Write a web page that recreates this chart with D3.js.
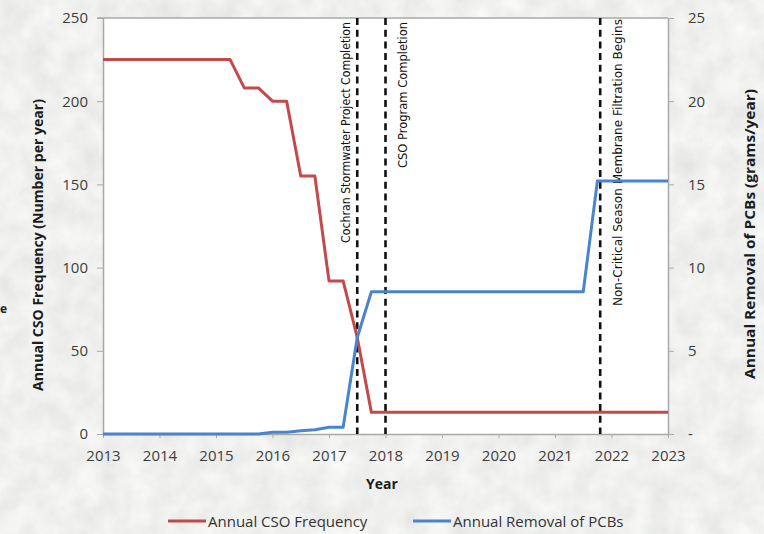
<!DOCTYPE html>
<html>
<head>
<meta charset="utf-8">
<script src="https://cdn.jsdelivr.net/npm/d3@7"></script>
<style>
  body { margin: 0; background: #eaebe8; }
  svg { display: block; }
  .tick text { font-family: "Open Sans", sans-serif; font-size: 15px; fill: #3d3d3d; }
  .axis-title { font-family: "Open Sans", sans-serif; font-size: 14px; font-weight: bold; fill: #1c1c1c; }
  .note { font-family: "Liberation Sans Narrow", "DejaVu Sans Condensed", sans-serif; font-size: 12px; fill: #111; }
  .legend text { font-family: "Open Sans", sans-serif; font-size: 15px; fill: #333; }
</style>
</head>
<body>
<div id="chart"></div>
<script>
// CSO frequency (left axis, number per year)
const csoYears  = [2013, 2015.25, 2015.5, 2015.75, 2016, 2016.25, 2016.5, 2016.75, 2017, 2017.25, 2017.5, 2017.75, 2023];
const csoValues = [225, 225, 208, 208, 200, 200, 155, 155, 92, 92, 58, 13, 13];

// PCB removal (right axis, grams per year)
const pcbYears  = [2013, 2015.75, 2016, 2016.25, 2016.5, 2016.75, 2017, 2017.25, 2017.5, 2017.75, 2021.5, 2021.75, 2023];
const pcbValues = [0, 0, 0.1, 0.1, 0.2, 0.25, 0.4, 0.4, 5.8, 8.55, 8.55, 15.2, 15.2];

// milestone lines
const milestoneYears  = [2017.5, 2018, 2021.8];
const milestoneLabels = ["Cochran Stormwater Project Completion", "CSO Program Completion", "Non-Critical Season Membrane Filtration Begins"];

const xTicks = [2013, 2014, 2015, 2016, 2017, 2018, 2019, 2020, 2021, 2022, 2023];
const leftTicks = [0, 50, 100, 150, 200, 250];
const rightTicks = [0, 5, 10, 15, 20, 25];

const seriesNames = ["Annual CSO Frequency", "Annual Removal of PCBs"];
const seriesColors = ["#c4494b", "#4a84cc"];

const width = 764, height = 534;
const plot = { left: 103, right: 668, top: 18, bottom: 434 };

const svg = d3.select("#chart").append("svg")
  .attr("width", width)
  .attr("height", height);

// faded photo-like backdrop
const defs = svg.append("defs");
const f = defs.append("filter").attr("id", "tex").attr("x", 0).attr("y", 0).attr("width", "100%").attr("height", "100%");
f.append("feTurbulence").attr("type", "fractalNoise").attr("baseFrequency", 0.04).attr("numOctaves", 4).attr("seed", 4);
f.append("feColorMatrix").attr("type", "matrix")
  .attr("values", "0 0 0 0.22 0.76  0 0 0 0.22 0.77  0 0 0 0.22 0.75  0 0 0 0 1");
svg.append("rect").attr("width", width).attr("height", height).attr("filter", "url(#tex)");

const x = d3.scaleLinear().domain([2013, 2023]).range([plot.left, plot.right]);
const yL = d3.scaleLinear().domain([0, 250]).range([plot.bottom, plot.top]);
const yR = d3.scaleLinear().domain([0, 25]).range([plot.bottom, plot.top]);

svg.append("rect")
  .attr("x", plot.left).attr("y", plot.top)
  .attr("width", plot.right - plot.left).attr("height", plot.bottom - plot.top)
  .attr("fill", "#fff");

function styleAxis(g) {
  g.select(".domain").attr("stroke", "#a9a9a9").attr("stroke-width", 1.5);
  g.selectAll(".tick line").attr("stroke", "#a9a9a9");
}

// top border of plot area
svg.append("line")
  .attr("x1", plot.left - 6).attr("x2", plot.right)
  .attr("y1", plot.top).attr("y2", plot.top)
  .attr("stroke", "#a9a9a9").attr("stroke-width", 1.5);

svg.append("g")
  .attr("transform", `translate(0,${plot.bottom})`)
  .call(d3.axisBottom(x).tickValues(xTicks).tickFormat(d3.format("d")).tickSize(4).tickSizeOuter(0).tickPadding(12))
  .call(styleAxis);

svg.append("g")
  .attr("transform", `translate(${plot.left},0)`)
  .call(d3.axisLeft(yL).tickValues(leftTicks).tickSize(6).tickSizeOuter(0).tickPadding(9))
  .call(styleAxis);

svg.append("g")
  .attr("transform", `translate(${plot.right},0)`)
  .call(d3.axisRight(yR).tickValues(rightTicks).tickFormat(d => d === 0 ? "-" : d).tickSize(6).tickSizeOuter(0).tickPadding(14))
  .call(styleAxis);

// milestone dashed lines
svg.append("g").selectAll("line")
  .data(milestoneYears)
  .join("line")
  .attr("x1", d => x(d)).attr("x2", d => x(d))
  .attr("y1", plot.top).attr("y2", plot.bottom)
  .attr("stroke", "#111").attr("stroke-width", 2.6)
  .attr("stroke-dasharray", "7,4.7");

const noteOffset = [-7, 21, 22];
const noteTop = [22, 22, 19];
const noteLen = [221, 146, 287];
svg.append("g").selectAll("text")
  .data(milestoneYears)
  .join("text")
  .attr("class", "note")
  .attr("transform", (d, i) => `translate(${x(d) + noteOffset[i]},${noteTop[i]}) rotate(-90)`)
  .attr("text-anchor", "end")
  .attr("textLength", (d, i) => noteLen[i])
  .attr("lengthAdjust", "spacingAndGlyphs")
  .text((d, i) => milestoneLabels[i]);

// series lines
const lineL = d3.line().x(d => x(d[0])).y(d => yL(d[1]));
const lineR = d3.line().x(d => x(d[0])).y(d => yR(d[1]));

svg.append("path")
  .datum(csoYears.map((yr, i) => [yr, csoValues[i]]))
  .attr("fill", "none").attr("stroke", seriesColors[0]).attr("stroke-width", 3)
  .attr("stroke-linejoin", "round")
  .attr("d", lineL);

svg.append("path")
  .datum(pcbYears.map((yr, i) => [yr, pcbValues[i]]))
  .attr("fill", "none").attr("stroke", seriesColors[1]).attr("stroke-width", 3)
  .attr("stroke-linejoin", "round")
  .attr("d", lineR);

// axis titles
svg.append("text").attr("class", "axis-title")
  .attr("transform", "translate(43,245) rotate(-90)")
  .attr("text-anchor", "middle")
  .attr("textLength", 292).attr("lengthAdjust", "spacingAndGlyphs")
  .text("Annual CSO Frequency (Number per year)");

svg.append("text").attr("class", "axis-title")
  .attr("transform", "translate(755,234) rotate(-90)")
  .attr("text-anchor", "middle")
  .attr("textLength", 290).attr("lengthAdjust", "spacingAndGlyphs")
  .text("Annual Removal of PCBs (grams/year)");

svg.append("text").attr("class", "axis-title")
  .attr("x", 382).attr("y", 489)
  .attr("text-anchor", "middle")
  .text("Year");

// stray letter at the left edge
svg.append("text")
  .attr("x", 0).attr("y", 313)
  .attr("font-family", "Open Sans, sans-serif").attr("font-weight", "bold")
  .attr("font-size", 12).attr("fill", "#222")
  .text("e");

// legend
const legendX = [168, 413];
const legend = svg.append("g").attr("class", "legend");
const items = legend.selectAll("g").data(seriesNames).join("g")
  .attr("transform", (d, i) => `translate(${legendX[i]},521)`);
items.append("line")
  .attr("x1", 0).attr("x2", 38)
  .attr("stroke", (d, i) => seriesColors[i]).attr("stroke-width", 3);
items.append("text")
  .attr("x", 40).attr("y", 5.5)
  .text(d => d);
</script>
</body>
</html>
